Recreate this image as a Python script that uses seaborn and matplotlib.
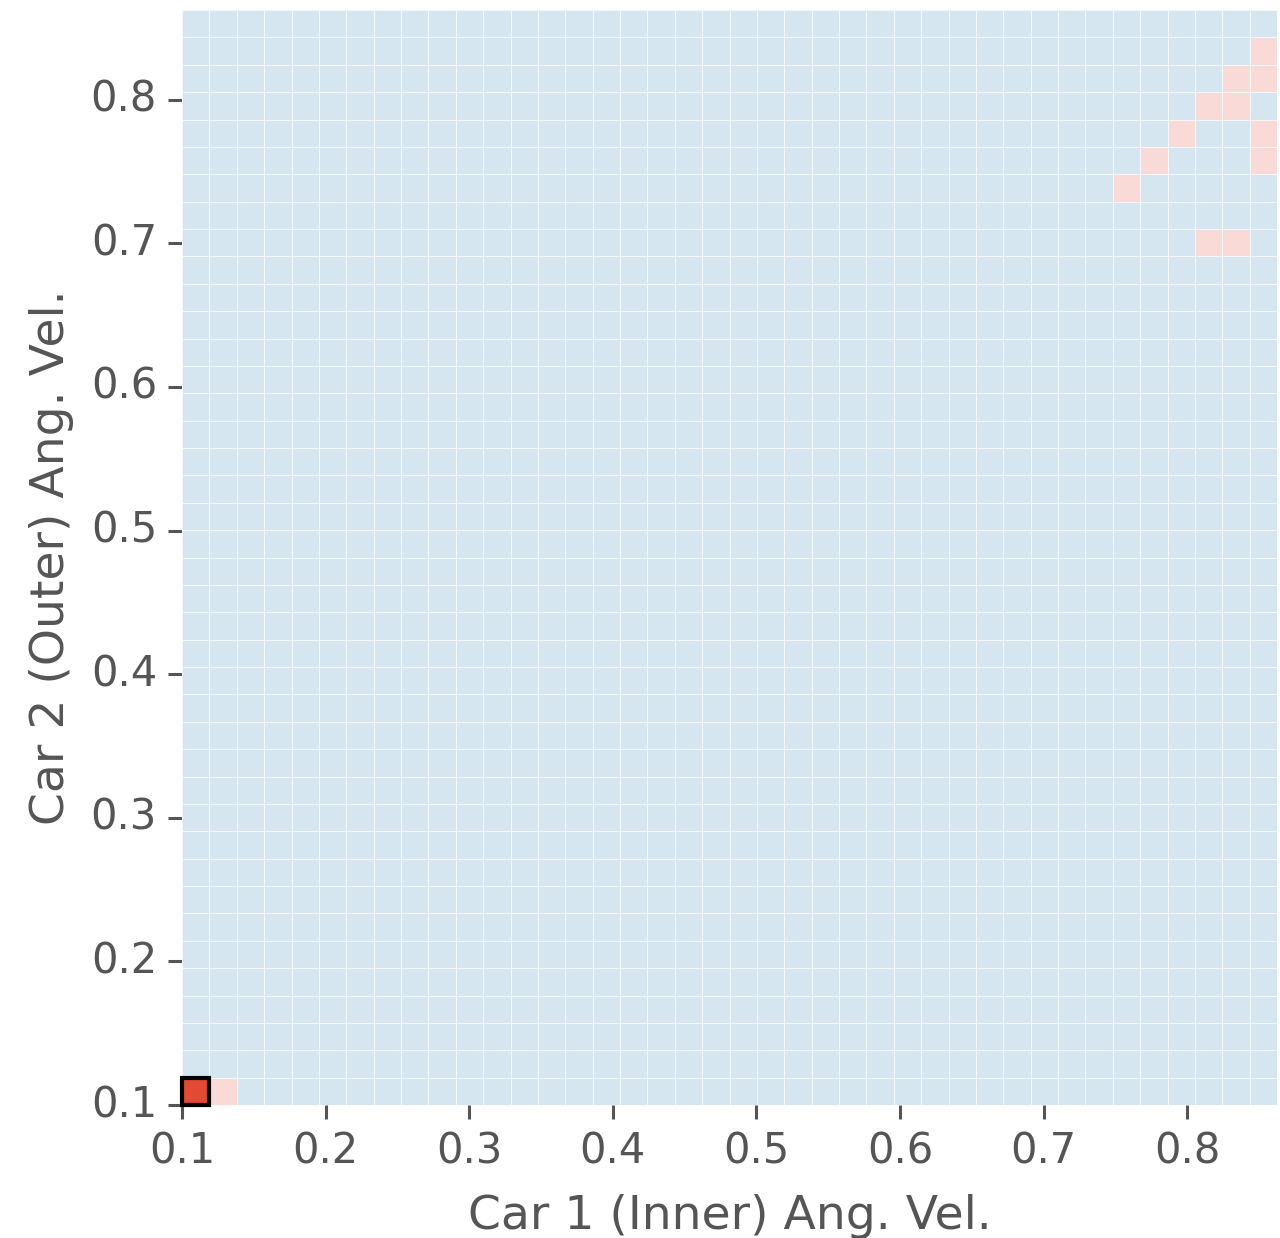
import numpy as np
import pandas as pd
import seaborn as sns
import matplotlib
matplotlib.use("Agg")
import matplotlib.pyplot as plt
from matplotlib.colors import ListedColormap
from matplotlib.patches import Rectangle

# ---- data ----
v_min = 0.1          # lower edge of the velocity grid
v_max = 0.8625       # upper edge of the velocity grid
n_cells = 40         # cells per axis

tick_values = [0.1, 0.2, 0.3, 0.4, 0.5, 0.6, 0.7, 0.8]
tick_labels = ["0.1", "0.2", "0.3", "0.4", "0.5", "0.6", "0.7", "0.8"]

# cells flagged (light red): column index (Car 1), row index (Car 2)
flag_cols = [1, 39, 38, 39, 37, 38, 36, 39, 35, 39, 34, 37, 38]
flag_rows = [0, 38, 37, 37, 36, 36, 35, 35, 34, 34, 33, 31, 31]

# best / selected cell (solid red, outlined)
best_col = 0
best_row = 0

state_colors = ["#d6e6f1", "#f9dad6", "#e24a33"]  # 0: normal, 1: flagged, 2: best

x_label = "Car 1 (Inner) Ang. Vel."
y_label = "Car 2 (Outer) Ang. Vel."

# ---- build grid ----
state = np.zeros((n_cells, n_cells))
for c, r in zip(flag_cols, flag_rows):
    state[r, c] = 1
state[best_row, best_col] = 2
edges = np.linspace(v_min, v_max, n_cells + 1)
centers = (edges[:-1] + edges[1:]) / 2
df = pd.DataFrame(state, index=np.round(centers, 4), columns=np.round(centers, 4))
cell_w = (v_max - v_min) / n_cells

# ---- plot ----
sns.set_theme(style="white")
plt.rcParams["font.family"] = ["DejaVu Sans"]

fig = plt.figure(figsize=(6.4, 6.19), dpi=200)
ax = fig.add_axes([182 / 1280, 133 / 1238, 1095 / 1280, 1095 / 1238])

sns.heatmap(df, ax=ax, cmap=ListedColormap(state_colors), vmin=-0.5, vmax=2.5,
            cbar=False, linewidths=0.3, linecolor="#f4f8fb")
ax.invert_yaxis()

pos = [(t - v_min) / cell_w for t in tick_values]
ax.set_xticks(pos)
ax.set_xticklabels(tick_labels, rotation=0)
ax.set_yticks(pos)
ax.set_yticklabels(tick_labels, rotation=0)

ax.add_patch(Rectangle((best_col, best_row), 1, 1, fill=False,
                       edgecolor="black", linewidth=1.5, clip_on=False, zorder=5))

for s in ax.spines.values():
    s.set_visible(False)

ax.tick_params(axis="both", which="major", bottom=True, left=True,
               direction="out", length=5, width=1.1, pad=4,
               color="#555555", labelcolor="#555555", labelsize=15)
ax.set_xlabel(x_label, fontsize=17, color="#555555", labelpad=8)
ax.set_ylabel(y_label, fontsize=17, color="#555555", labelpad=6)

fig.savefig("out.png", dpi=200, facecolor="white")
